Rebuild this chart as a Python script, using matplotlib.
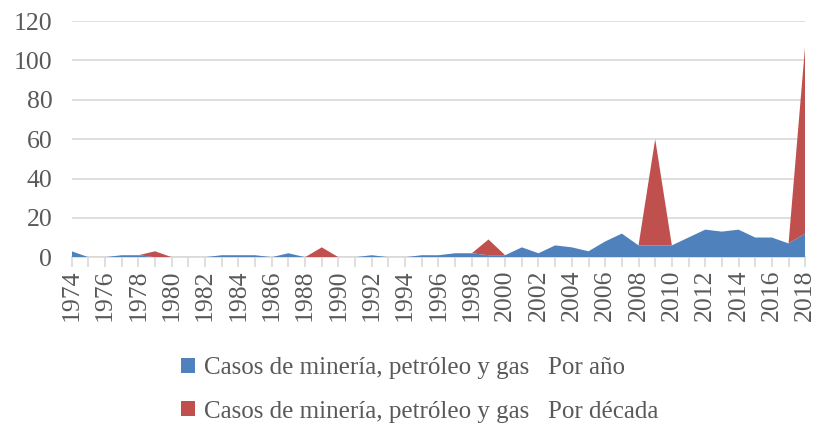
import numpy as np
import matplotlib.pyplot as plt
from matplotlib.patches import Patch

# Datos
anios = list(range(1974, 2019))
por_anio = [3, 0, 0, 1, 1, 0, 0, 0, 0, 1, 1, 1, 0, 2, 0, 0, 0, 0, 1, 0,
            0, 1, 1, 2, 2, 1, 1, 5, 2, 6, 5, 3, 8, 12, 6, 6, 6, 10, 14, 13,
            14, 10, 10, 7, 12]
decadas = [1979, 1989, 1999, 2009, 2018]
valores_decada = [3, 5, 8, 54, 96]
por_decada = [valores_decada[decadas.index(a)] if a in decadas else 0 for a in anios]

etiquetas = ["Casos de minería, petróleo y gas   Por año",
             "Casos de minería, petróleo y gas   Por década"]
colores = ["#4F81BD", "#C0504D"]

plt.rcParams['font.family'] = ['Liberation Serif', 'DejaVu Serif']
gris = "#595959"
linea = "#D9D9D9"

fig = plt.figure(figsize=(8.15, 4.23), dpi=100)
ax = fig.add_axes([0.088, 0.392, 0.9, 0.558])

ax.stackplot(anios, por_anio, por_decada, colors=colores, linewidth=0)

ax.set_xlim(1974, 2018)
ax.set_ylim(0, 120)
ax.set_yticks(range(0, 121, 20))
ax.set_xticks(range(1974, 2019, 2))
ax.set_xticks(range(1974, 2019), minor=True)
ax.set_xticklabels([str(a) for a in range(1974, 2019, 2)], rotation=90)

ax.grid(axis='y', color=linea, linewidth=1.2)
ax.set_axisbelow(True)
for s in ['top', 'right', 'left']:
    ax.spines[s].set_visible(False)
ax.spines['bottom'].set_color(linea)
ax.spines['bottom'].set_linewidth(1.2)
ax.spines['bottom'].set_zorder(0.5)

ax.tick_params(axis='y', length=0, labelsize=18.5, labelcolor=gris, pad=14)
ax.tick_params(axis='x', which='both', length=7, color=linea, width=1.2,
               labelsize=18.5, labelcolor=gris, pad=2)

handles = [Patch(facecolor=c) for c in colores]
fig.legend(handles, etiquetas, loc='lower center', bbox_to_anchor=(0.515, -0.017),
           ncol=1, frameon=False, fontsize=18, labelcolor=gris,
           handlelength=0.55, handleheight=0.55, handletextpad=0.35,
           labelspacing=0.85, borderaxespad=0.1, borderpad=0.2)

fig.savefig("out.png", dpi=100)
